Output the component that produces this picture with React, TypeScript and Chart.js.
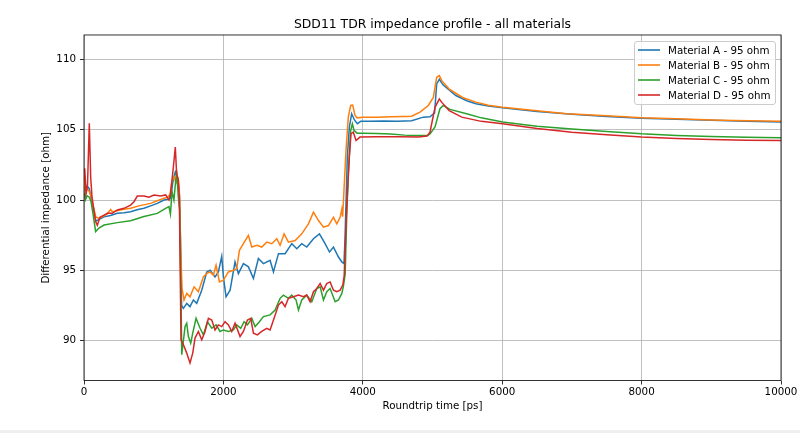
import React, { useEffect, useRef } from "react";
import { Chart, registerables } from "chart.js";

Chart.register(...registerables);

const chartTitle = "SDD11 TDR impedance profile - all materials";
const xAxisTitle = "Roundtrip time [ps]";
const yAxisTitle = "Differential impedance [ohm]";
const seriesNames = [
  "Material A - 95 ohm",
  "Material B - 95 ohm",
  "Material C - 95 ohm",
  "Material D - 95 ohm",
];
const seriesColors = ["#1f77b4", "#ff7f0e", "#2ca02c", "#d62728"];
const xTicks = [0, 2000, 4000, 6000, 8000, 10000];
const yTicks = [90, 95, 100, 105, 110];
const xRange = [0, 10000];
const yRange = [87.15, 111.75];

// [roundtrip time ps, impedance ohm]
const materialA: [number, number][] = [
  [0, 101.5], [20, 100.4], [45, 101.0], [76, 100.8], [100, 100.2], [130, 99.5], [170, 98.5], [210, 98.6],
  [287, 98.8], [380, 98.9], [478, 99.05], [574, 99.1], [669, 99.17], [760, 99.3], [860, 99.41], [956, 99.58],
  [1052, 99.76], [1147, 100.0], [1200, 100.05], [1240, 100.1], [1282, 101.5], [1310, 102.0], [1340, 101.6],
  [1368, 100.5], [1385, 97.0], [1400, 92.5], [1426, 92.29], [1474, 92.64], [1521, 92.41], [1569, 92.88],
  [1617, 92.64], [1689, 93.58], [1761, 94.88], [1809, 95.0], [1880, 94.53], [1928, 94.88], [1976, 95.99],
  [2000, 94.53], [2038, 93.11], [2096, 93.58], [2167, 95.59], [2215, 94.76], [2287, 95.47], [2359, 95.24],
  [2431, 94.41], [2502, 95.83], [2574, 95.47], [2670, 95.71], [2718, 94.88], [2790, 96.18], [2885, 96.18],
  [2981, 96.89], [3053, 96.53], [3124, 96.89], [3196, 96.65], [3292, 97.24], [3378, 97.59], [3459, 96.89],
  [3522, 96.3], [3579, 96.65], [3651, 95.94], [3699, 95.59], [3730, 95.48], [3745, 97.3], [3778, 103.06],
  [3807, 105.19], [3840, 106.14], [3880, 105.7], [3922, 105.43], [3970, 105.6], [4100, 105.6], [4300, 105.62],
  [4500, 105.6], [4700, 105.65], [4869, 105.9], [4964, 105.93], [5030, 106.2], [5060, 108.27], [5098, 108.6],
  [5150, 108.2], [5335, 107.44], [5500, 107.05], [5623, 106.85], [5800, 106.7], [6005, 106.56], [6500, 106.3],
  [7000, 106.1], [7500, 105.95], [8000, 105.83], [8500, 105.75], [9000, 105.68], [9500, 105.6], [10000, 105.55],
];

const materialB: [number, number][] = [
  [0, 101.8], [20, 100.5], [45, 100.8], [76, 100.6], [100, 100.3], [130, 99.6], [170, 98.8], [210, 98.7],
  [260, 98.8], [330, 99.0], [383, 99.32], [406, 99.17], [440, 99.2], [574, 99.35], [669, 99.41], [800, 99.6],
  [956, 99.76], [1052, 99.95], [1147, 100.12], [1200, 100.2], [1234, 100.4], [1263, 101.4], [1296, 101.64],
  [1320, 101.2], [1353, 101.5], [1372, 100.2], [1390, 96.0], [1407, 93.7], [1435, 92.88], [1474, 93.35],
  [1521, 93.11], [1579, 93.82], [1641, 93.47], [1713, 94.53], [1761, 94.76], [1809, 94.88], [1856, 94.65],
  [1895, 95.35], [1943, 94.17], [2000, 94.29], [2072, 94.88], [2144, 95.0], [2191, 95.12], [2230, 96.42],
  [2287, 96.89], [2359, 97.48], [2407, 96.65], [2479, 96.77], [2550, 96.65], [2622, 97.0], [2694, 96.89],
  [2766, 97.24], [2813, 96.77], [2871, 97.59], [2933, 97.0], [3029, 97.12], [3124, 97.59], [3220, 98.3],
  [3292, 99.13], [3364, 98.54], [3436, 98.07], [3507, 98.18], [3579, 98.77], [3627, 98.3], [3675, 98.77],
  [3699, 99.36], [3711, 98.82], [3730, 100.69], [3759, 103.53], [3792, 105.9], [3826, 106.73], [3855, 106.75],
  [3888, 106.02], [3919, 105.85], [4000, 105.9], [4200, 105.9], [4400, 105.92], [4600, 105.95], [4700, 105.97],
  [4821, 106.26], [4940, 106.73], [5012, 107.3], [5060, 108.74], [5098, 108.86], [5133, 108.5], [5240, 107.9],
  [5431, 107.3], [5623, 106.97], [5800, 106.75], [6005, 106.6], [6500, 106.35], [6926, 106.14], [7500, 106.0],
  [8000, 105.86], [8500, 105.78], [9000, 105.7], [9323, 105.67], [10000, 105.6],
];

const materialC: [number, number][] = [
  [0, 100.5], [20, 100.0], [45, 100.3], [76, 100.2], [100, 99.9], [130, 99.0], [167, 97.75], [215, 98.0],
  [287, 98.22], [478, 98.39], [669, 98.53], [860, 98.82], [1052, 99.05], [1171, 99.41], [1219, 99.53],
  [1240, 99.0], [1263, 100.6], [1290, 100.0], [1329, 102.1], [1353, 100.2], [1372, 99.3], [1390, 94.0], [1402, 88.99],
  [1450, 90.99], [1474, 91.23], [1498, 90.28], [1531, 89.81], [1560, 90.52], [1608, 91.58], [1665, 90.87],
  [1713, 90.4], [1770, 91.34], [1833, 90.87], [1895, 91.11], [1952, 90.64], [2000, 90.75], [2072, 90.64],
  [2144, 90.75], [2191, 91.11], [2249, 90.87], [2297, 91.34], [2345, 91.11], [2407, 91.58], [2455, 90.99],
  [2517, 91.34], [2574, 91.7], [2670, 91.82], [2742, 92.17], [2813, 93.0], [2861, 93.23], [2933, 93.0],
  [2981, 93.23], [3043, 92.88], [3077, 92.17], [3124, 92.88], [3196, 93.23], [3268, 92.76], [3340, 93.7],
  [3388, 93.82], [3436, 92.88], [3483, 93.47], [3531, 93.7], [3603, 92.76], [3651, 92.88], [3699, 93.35],
  [3720, 93.82], [3747, 94.7], [3769, 98.79], [3792, 101.87], [3826, 104.95], [3850, 105.43], [3875, 104.95],
  [3919, 104.76], [4000, 104.76], [4200, 104.74], [4400, 104.7], [4600, 104.62], [4700, 104.6], [4930, 104.6],
  [4964, 104.7], [5036, 105.2], [5107, 106.5], [5155, 106.73], [5250, 106.45], [5489, 106.14], [5700, 105.85],
  [6005, 105.55], [6500, 105.25], [7000, 105.05], [7500, 104.88], [8000, 104.71], [8500, 104.6], [9000, 104.52],
  [9500, 104.47], [10000, 104.43],
];

const materialD: [number, number][] = [
  [0, 102.2], [10, 102.25], [30, 100.45], [50, 101.0], [76, 105.47], [96, 101.6], [115, 100.2], [167, 98.46],
  [191, 98.2], [229, 98.77], [287, 98.93], [335, 99.05], [406, 99.05], [478, 99.29], [574, 99.41], [669, 99.64],
  [717, 99.88], [765, 100.28], [860, 100.28], [932, 100.2], [1004, 100.36], [1100, 100.28], [1171, 100.36],
  [1219, 100.0], [1243, 100.5], [1282, 102.35], [1310, 103.77], [1329, 101.87], [1353, 101.4], [1368, 100.2],
  [1380, 95.0], [1392, 90.05], [1426, 89.69], [1474, 89.1], [1521, 88.4], [1560, 89.1], [1593, 90.17],
  [1641, 90.64], [1689, 90.05], [1737, 90.64], [1785, 91.58], [1833, 91.46], [1880, 90.75], [1928, 91.11],
  [1976, 90.99], [2024, 91.34], [2072, 91.11], [2120, 90.64], [2167, 91.23], [2239, 90.28], [2287, 90.64],
  [2345, 91.46], [2392, 91.58], [2431, 90.52], [2488, 90.4], [2550, 90.64], [2622, 90.87], [2670, 90.75],
  [2727, 91.58], [2790, 92.52], [2837, 92.76], [2885, 92.41], [2933, 93.0], [3005, 93.11], [3077, 93.23],
  [3148, 93.11], [3196, 93.23], [3244, 92.76], [3292, 93.47], [3340, 93.7], [3388, 94.06], [3436, 93.58],
  [3483, 94.06], [3531, 94.17], [3579, 93.58], [3627, 93.47], [3675, 93.58], [3713, 93.94], [3733, 94.6],
  [3769, 99.5], [3807, 103.06], [3831, 104.72], [3864, 104.83], [3903, 104.24], [3960, 104.48], [4200, 104.5],
  [4500, 104.5], [4800, 104.48], [4920, 104.55], [4964, 104.83], [5036, 106.6], [5098, 107.2], [5133, 106.95],
  [5240, 106.37], [5420, 105.9], [5700, 105.6], [6005, 105.43], [6500, 105.1], [7000, 104.83], [7500, 104.65],
  [8000, 104.48], [8500, 104.38], [9000, 104.3], [9500, 104.25], [10000, 104.24],
];

const FONT = "'DejaVu Sans', sans-serif";

export default function App() {
  const canvasRef = useRef<HTMLCanvasElement | null>(null);

  useEffect(() => {
    const canvas = canvasRef.current;
    if (!canvas) return;
    const series = [materialA, materialB, materialC, materialD];

    const framePlugin = {
      id: "frame",
      afterDatasetsDraw(chart: any) {
        const { ctx, chartArea: a } = chart;
        ctx.save();
        ctx.strokeStyle = "#000";
        ctx.lineWidth = 0.8;
        ctx.strokeRect(a.left, a.top, a.right - a.left, a.bottom - a.top);
        ctx.restore();
      },
    };

    const tickFont = { family: FONT, size: 10.3 };

    const chart = new Chart(canvas, {
      type: "line",
      data: {
        datasets: series.map((s, i) => ({
          label: seriesNames[i],
          data: s.map(([x, y]) => ({ x, y })),
          borderColor: seriesColors[i],
          backgroundColor: seriesColors[i],
          borderWidth: 1.5,
          pointRadius: 0,
          pointHoverRadius: 0,
          tension: 0,
          fill: false,
          order: series.length - i,
        })),
      },
      options: {
        animation: false,
        responsive: false,
        maintainAspectRatio: false,
        events: [],
        layout: { padding: { left: 0, right: 19, top: 0, bottom: 0 } },
        plugins: {
          legend: { display: false },
          tooltip: { enabled: false },
          title: {
            display: true,
            text: chartTitle,
            fullSize: false,
            color: "#000",
            font: { family: FONT, size: 12.4, weight: "normal" },
            padding: { top: 17.4, bottom: 2.7 },
          },
        },
        scales: {
          x: {
            type: "linear",
            min: xRange[0],
            max: xRange[1],
            afterBuildTicks: (s: any) => {
              s.ticks = xTicks.map((v) => ({ value: v }));
            },
            afterFit: (s: any) => {
              s.height = 49.5;
            },
            border: { display: false },
            grid: { color: "#b0b0b0", lineWidth: 0.8, tickColor: "#000", tickLength: 4, tickWidth: 0.8 },
            ticks: {
              color: "#000",
              font: tickFont,
              padding: 2,
              maxRotation: 0,
              callback: (v: any) => String(v),
            },
            title: {
              display: true,
              text: xAxisTitle,
              color: "#000",
              font: tickFont,
              padding: { top: 0, bottom: 17 },
            },
          },
          y: {
            type: "linear",
            min: yRange[0],
            max: yRange[1],
            afterBuildTicks: (s: any) => {
              s.ticks = yTicks.map((v) => ({ value: v }));
            },
            afterFit: (s: any) => {
              s.width = 84;
            },
            border: { display: false },
            grid: { color: "#b0b0b0", lineWidth: 0.8, tickColor: "#000", tickLength: 4, tickWidth: 0.8 },
            ticks: {
              color: "#000",
              font: tickFont,
              padding: 4,
              callback: (v: any) => String(v),
            },
            title: {
              display: true,
              text: yAxisTitle,
              color: "#000",
              font: tickFont,
              padding: { top: 40.4, bottom: 0 },
            },
          },
        },
      },
      plugins: [framePlugin],
    } as any);

    return () => chart.destroy();
  }, []);

  return (
    <div
      style={{
        position: "absolute",
        left: 0,
        top: 0,
        width: 800,
        height: 433,
        background: "#fff",
        fontFamily: FONT,
      }}
    >
      <canvas ref={canvasRef} width={800} height={430} style={{ display: "block", width: 800, height: 430 }} />
      <div style={{ position: "absolute", left: 0, top: 430, width: 800, height: 3, background: "#efefef" }} />
      <div
        style={{
          position: "absolute",
          left: 634,
          top: 41,
          width: 140,
          height: 62,
          border: "1px solid #cccccc",
          borderRadius: 3,
          background: "rgba(255,255,255,0.8)",
        }}
      >
        {seriesNames.map((name, i) => (
          <div
            key={name}
            style={{
              position: "absolute",
              left: 0,
              top: 0.5 + i * 15.3,
              height: 14,
              width: 140,
              display: "flex",
              alignItems: "center",
            }}
          >
            <svg width={22} height={4} style={{ marginLeft: 3, display: "block" }}>
              <line x1={0} y1={2} x2={22} y2={2} stroke={seriesColors[i]} strokeWidth={1.6} />
            </svg>
            <span
              style={{
                marginLeft: 8,
                fontSize: 10.3,
                color: "#000",
                whiteSpace: "nowrap",
                lineHeight: "14px",
              }}
            >
              {name}
            </span>
          </div>
        ))}
      </div>
    </div>
  );
}
